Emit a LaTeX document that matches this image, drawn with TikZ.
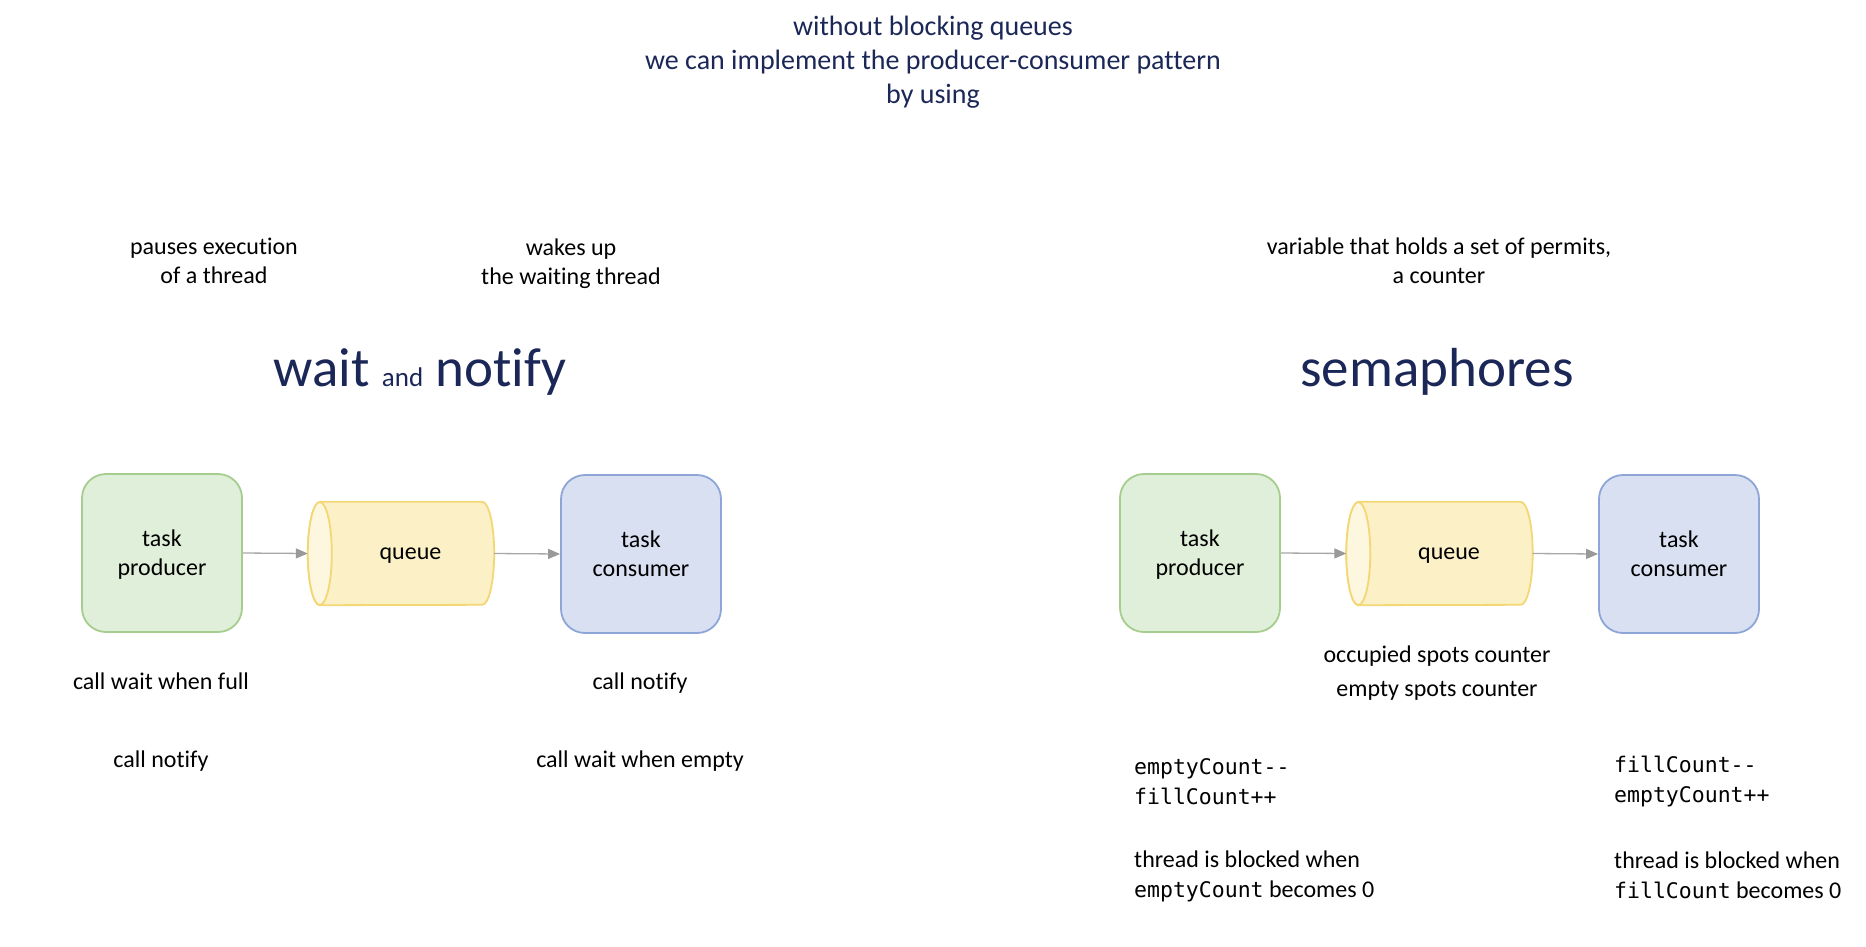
\documentclass[tikz,border=0pt]{standalone}
\usepackage{fontspec}
\setmainfont{Carlito}[Ligatures=NoCommon]
\setmonofont{DejaVu Sans Mono}
\usetikzlibrary{arrows.meta,backgrounds}
\definecolor{navy}{HTML}{1B2757}
\definecolor{gfill}{HTML}{E0EFD9}
\definecolor{gdraw}{HTML}{A5CD8E}
\definecolor{yfill}{HTML}{FBF0C6}
\definecolor{yend}{HTML}{FDF7E0}
\definecolor{ydraw}{HTML}{F3D774}
\definecolor{bfill}{HTML}{D9E0F1}
\definecolor{bdraw}{HTML}{8EA5D8}
\definecolor{arr}{HTML}{A8A8A8}
\definecolor{arrtip}{HTML}{999999}
\newcommand\mcode[1]{{\fontsize{21.5}{29}\ttfamily\selectfont #1}}
\begin{document}
\begin{tikzpicture}[x=1pt,y=-1pt,
  txt/.style={inner sep=0pt, align=center, font=\fontsize{24}{29}\selectfont},
  ltxt/.style={inner sep=0pt, align=left, anchor=west, font=\fontsize{24}{30}\selectfont},
  mono/.style={inner sep=0pt, align=left, anchor=west, font=\fontsize{21.5}{30}\ttfamily\selectfont},
  title/.style={inner sep=0pt, align=center, text=navy, font=\fontsize{28}{34}\selectfont},
  head/.style={inner sep=0pt, anchor=base, text=navy, font=\fontsize{55}{60}\selectfont},
  boxbase/.style={line width=1.8pt, rounded corners=24pt, minimum width=160pt, minimum height=158pt, align=center, inner sep=0pt, font=\fontsize{24}{29}\selectfont},
  gbox/.style={boxbase, draw=gdraw, fill=gfill},
  bbox/.style={boxbase, draw=bdraw, fill=bfill},
  qnode/.style={minimum width=186pt, minimum height=103pt, inner sep=0pt, font=\fontsize{24}{29}\selectfont},
  conn/.style={draw=arr, line width=1.3pt, -{Triangle[length=12pt,width=10pt,color=arrtip]}}
]
\useasboundingbox (0,0) rectangle (1866,946);

% title
\node[title] (title) at (933,62.5) {without blocking queues\\we can implement the producer-consumer pattern\\by using};

% left side
\node[txt] (pause) at (214,261) {pauses execution\\of a thread};
\node[txt] (wake) at (571,263.5) {wakes up\\the waiting thread};
\node[head] (hw) at (420,386) {wait {\fontsize{27}{30}\selectfont and} notify};

\node[gbox] (p1) at (162,553) {task\\\smash{p}roducer};
\node[qnode] (q1) at (401,553.5) {\hspace*{19pt}queue\rule{0pt}{16pt}};
\node[bbox] (c1) at (641,554) {task\\consumer};

\node[txt] (l1) at (161,681) {call wait when full};
\node[txt] (l2) at (161,761.5) {call notify};
\node[txt] (l3) at (640,683.5) {call notify};
\node[txt] (l4) at (640,761.5) {call wait when empty};

% right side
\node[txt] (var) at (1439,261) {variable that holds a set of permits,\\a counter};
\node[head] (hs) at (1437,386) {semaphores};

\node[gbox] (p2) at (1200,553) {task\\\smash{p}roducer};
\node[qnode] (q2) at (1439.5,553.5) {\hspace*{19pt}queue\rule{0pt}{16pt}};
\node[bbox] (c2) at (1679,554) {task\\consumer};

\node[txt] (occ) at (1437,656) {occupied spots counter};
\node[txt] (emp) at (1437,690.5) {empty spots counter};

\node[mono] (m1) at (1134,781.5) {emptyCount--\\fillCount++};
\node[ltxt] (b1) at (1134,876.5) {thread is blocked when\\\mcode{emptyCount} becomes 0};
\node[mono] (m2) at (1614,781.5) {fillCount--\\emptyCount++};
\node[ltxt] (b2) at (1614,875.5) {thread is blocked when\\\mcode{fillCount} becomes 0};

% cylinders
\begin{scope}[on background layer]
\foreach \q in {q1,q2}{
  \draw[draw=ydraw, fill=yfill, line width=1.8pt]
    ([xshift=12pt]\q.north west) -- ([xshift=-12pt]\q.north east)
    arc[start angle=90, end angle=-90, x radius=12pt, y radius=51.5pt]
    -- ([xshift=12pt]\q.south west)
    arc[start angle=270, end angle=90, x radius=12pt, y radius=51.5pt] -- cycle;
  \draw[draw=ydraw, fill=yend, line width=1.8pt]
    ([xshift=12pt]\q.west) ellipse[x radius=12pt, y radius=51.5pt];
}
\end{scope}

% connectors
\draw[conn] (p1.east) -- (q1.west);
\draw[conn] (q1.east) -- (c1.west);
\draw[conn] (p2.east) -- (q2.west);
\draw[conn] (q2.east) -- (c2.west);
\end{tikzpicture}
\end{document}
